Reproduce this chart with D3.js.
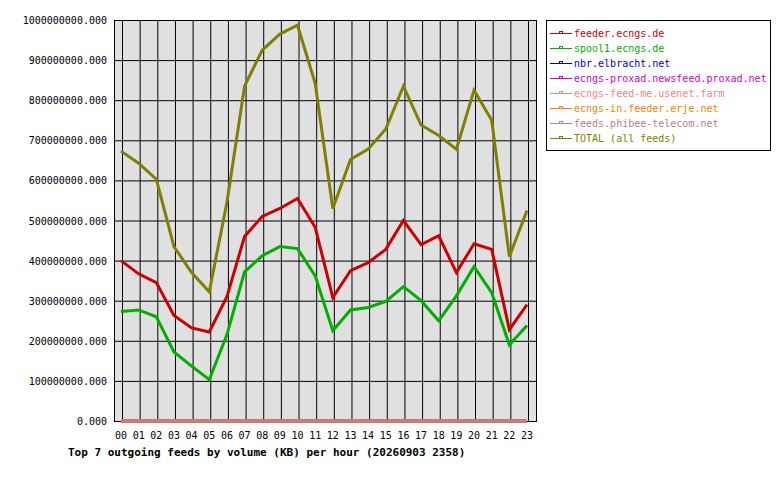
<!DOCTYPE html>
<html><head><meta charset="utf-8">
<script src="https://cdn.jsdelivr.net/npm/d3@7"></script>
<style>body{margin:0;background:#fff}text{font-family:"DejaVu Sans Mono",monospace;font-size:10px}</style>
</head><body>
<script>
// data (values in KB)
var hours = ["00","01","02","03","04","05","06","07","08","09","10","11","12","13","14","15","16","17","18","19","20","21","22","23"];
var feedNames = ["feeder.ecngs.de","spool1.ecngs.de","nbr.elbracht.net","ecngs-proxad.newsfeed.proxad.net",
    "ecngs-feed-me.usenet.farm","ecngs-in.feeder.erje.net","feeds.phibee-telecom.net","TOTAL (all feeds)"];
var feedColors = ["#cc0000","#00b000","#0000cc","#cc00cc","#ff8080","#ff8000","#c08080","#808000"];
var feeder = [400,367,345,263,232,222,310,460,510,530,555,483,308,375,395,428,500,440,462,370,442,428,228,290];
var spool1 = [273,277,260,172,137,103,215,372,412,435,430,362,225,277,283,298,335,300,250,312,385,320,190,238];
var small = [0,0,0,0,0,0,0,0,0,0,0,0,0,0,0,0,0,0,0,0,0,0,0,0];
var total = [673,643,603,435,370,322,545,835,925,965,987,842,530,652,678,728,835,738,712,678,825,750,410,525];
var series = [feeder, spool1, small, small, small, small, small, total].map(function(s){
    return s.map(function(v){ return v * 1e6; });
});
var yTicks = d3.range(0, 1000000001, 100000000);

var svg = d3.select("body").append("svg").attr("width", 780).attr("height", 480);
var pLeft = 114, pRight = 536, pTop = 20, pBottom = 421;

var x = d3.scalePoint().domain(hours).range([121, 527]);
var y = d3.scaleLinear().domain([0, 1e9]).range([pBottom, pTop]);

svg.append("rect").attr("x", pLeft).attr("y", pTop).attr("width", pRight - pLeft).attr("height", pBottom - pTop)
    .attr("fill", "#e0e0e0");

// grid
svg.selectAll(".vg").data(hours).enter().append("line")
    .attr("x1", function(d){ return x(d) + 1.5; }).attr("x2", function(d){ return x(d) + 1.5; })
    .attr("y1", pTop).attr("y2", pBottom).attr("stroke", "#000");
svg.selectAll(".hg").data(yTicks).enter().append("line")
    .attr("x1", pLeft).attr("x2", pRight).attr("y1", function(d){ return y(d) + 0.5; }).attr("y2", function(d){ return y(d) + 0.5; })
    .attr("stroke", "#000");
svg.append("rect").attr("x", pLeft + 0.5).attr("y", pTop + 0.5).attr("width", pRight - pLeft).attr("height", pBottom - pTop)
    .attr("fill", "none").attr("stroke", "#000");

// axis labels
svg.selectAll(".yl").data(yTicks).enter().append("text")
    .attr("x", pLeft - 7).attr("y", function(d){ return y(d) + 4; }).attr("text-anchor", "end")
    .text(function(d){ return d + ".000"; });
svg.selectAll(".xl").data(hours).enter().append("text")
    .attr("x", function(d){ return x(d); }).attr("y", 439).attr("text-anchor", "middle")
    .text(function(d){ return d; });
svg.append("text").attr("x", 68).attr("y", 456).attr("font-weight", "bold").style("font-size", "11px")
    .text("Top 7 outgoing feeds by volume (KB) per hour (20260903 2358)");

// lines
var line = d3.line().x(function(d, i){ return x(hours[i]); }).y(function(d){ return y(d); });
series.forEach(function(s, i){
    svg.append("path").attr("d", line(s)).attr("fill", "none")
        .attr("stroke", feedColors[i]).attr("stroke-width", 3);
});

// legend
svg.append("rect").attr("x", 546.5).attr("y", 20.5).attr("width", 224).attr("height", 130)
    .attr("fill", "#fff").attr("stroke", "#000");
var lg = svg.selectAll(".lg").data(feedNames).enter().append("g")
    .attr("transform", function(d, i){ return "translate(550," + (33 + i * 15) + ")"; });
lg.append("line").attr("x1", 0).attr("x2", 22).attr("y1", 0.5).attr("y2", 0.5)
    .attr("stroke", function(d, i){ return feedColors[i]; });
lg.append("rect").attr("x", 9.5).attr("y", -1.5).attr("width", 3).attr("height", 2).attr("fill", "none")
    .attr("stroke", function(d, i){ return feedColors[i]; });
lg.append("text").attr("x", 24).attr("y", 4).attr("fill", function(d, i){ return feedColors[i]; })
    .text(function(d){ return d; });
</script>
</body></html>
